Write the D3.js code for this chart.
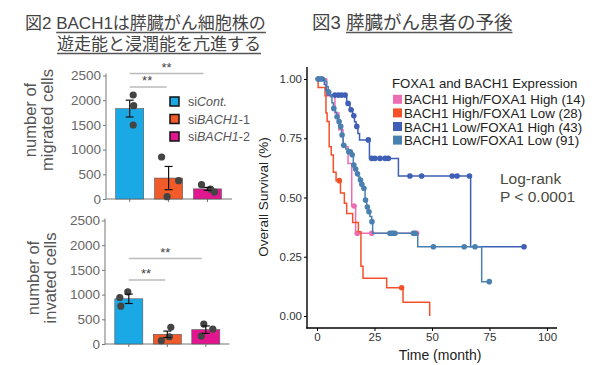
<!DOCTYPE html>
<html>
<head>
<meta charset="utf-8">
<script src="https://cdn.jsdelivr.net/npm/d3@7"></script>
<style>
  body { margin: 0; background: #fff; }
  svg { display: block; }
  text { font-family: "Liberation Sans", Arial, "Noto Sans CJK JP", sans-serif; }
</style>
</head>
<body>
<div class="svg-container"></div>
<script>
// ---- bar chart data (figure 2) ----
const conditions = ["siCont.", "siBACH1-1", "siBACH1-2"];
const barColours = ["#1aa9e4", "#f15a29", "#e2168f"];
const barTicks = [0, 500, 1000, 1500, 2000, 2500];

const migratedMean = [1830, 424, 205];
const migratedSem = [170, 235, 30];
const migratedDots = [[2105, 1889, 1498], [850, 370, 47], [290, 200, 140]];

const invadedMean = [915, 196, 290];
const invadedSem = [95, 65, 75];
const invadedDots = [[941, 1055, 766], [67, 337, 147], [403, 302, 161]];

// ---- survival data (figure 3) ----
const kmGroups = [
  "BACH1 High/FOXA1 High (14)",
  "BACH1 High/FOXA1 Low (28)",
  "BACH1 Low/FOXA1 High (43)",
  "BACH1 Low/FOXA1 Low (91)"
];
const kmColours = ["#ec6db3", "#f2512a", "#3f5fb6", "#4a80b0"];
const timeTicks = [0, 25, 50, 75, 100];
const survTicks = [0, 0.25, 0.5, 0.75, 1];

// [time, survival] after each step
const hhSteps = [[0, 1], [4.2, 0.929], [7.8, 0.857], [9.5, 0.786], [11.3, 0.714], [13.5, 0.643],
  [15.1, 0.464], [16.8, 0.349], [43.3, 0.349]];
const hhCensor = [16.1, 17.5, 23.8, 43.3];

const hlSteps = [[0, 1], [0.5, 0.964], [3.5, 0.929], [3.9, 0.857], [4.4, 0.821], [5.3, 0.714],
  [6.2, 0.679], [7.1, 0.607], [8.3, 0.571], [10.2, 0.519], [11.9, 0.476], [12.9, 0.433],
  [15.5, 0.394], [18, 0.356], [19.1, 0.21], [20, 0.159], [30.3, 0.119], [37.4, 0.058], [49, 0]];
const hlCensor = [9.7, 36.8];

const lhSteps = [[0, 1], [3.2, 0.977], [3.9, 0.953], [4.6, 0.932], [12.9, 0.897], [14.3, 0.87],
  [15.5, 0.845], [16.3, 0.82], [17, 0.8], [17.8, 0.77], [18.5, 0.743], [22.8, 0.665],
  [35.4, 0.591], [66.8, 0.292], [90, 0.292]];
const lhCensor = [0.5, 2.2, 7.8, 9.3, 10.7, 12.2, 13.5, 14.8, 16, 17.3, 22.3, 23.8, 25.2, 27.4,
  29.6, 31, 40.4, 45.5, 58.8, 60.9, 66.3, 90];

const llSteps = [[0, 1], [3.5, 0.989], [4.2, 0.967], [4.9, 0.946], [5.9, 0.925], [6.5, 0.9],
  [7.1, 0.876], [8, 0.86], [8.6, 0.841], [9.3, 0.82], [10, 0.8], [10.7, 0.764], [11.4, 0.72],
  [12.5, 0.705], [13.6, 0.693], [15.1, 0.68], [15.8, 0.637], [16.5, 0.62], [17.3, 0.6],
  [18, 0.587], [18.7, 0.574], [19.4, 0.556], [20.1, 0.539], [20.9, 0.489], [21.6, 0.46],
  [22.3, 0.44], [23, 0.42], [23.8, 0.398], [24.2, 0.349], [43.8, 0.292], [71.6, 0.145], [74.9, 0.145]];
const llCensor = [0.6, 1.5, 5.0, 7.3, 8.7, 9.6, 10.3, 10.9, 11.6, 13.8, 14.5, 15.3, 16, 16.8,
  17.6, 18.9, 19.5, 20.4, 21.1, 21.9, 22.6, 23.9, 31.7, 32.5, 33.2, 33.9, 41.9, 42.6, 50.6, 64, 68.7, 74.9];

const kmSteps = [hhSteps, hlSteps, lhSteps, llSteps];
const kmCensor = [hhCensor, hlCensor, lhCensor, llCensor];

// set up svg
const width = 601;
const height = 365;

const svg = d3.select('.svg-container')
  .append('svg')
  .attr('width', width)
  .attr('height', height);

// titles with underlines
function title(x, y, plain, underlined, size) {
  const t = svg.append('text')
    .attr('x', x).attr('y', y)
    .attr('font-size', size || 17)
    .attr('fill', '#444');
  if (plain) t.append('tspan').text(plain);
  t.append('tspan').text(underlined);
  const start = x + (plain ? t.node().getSubStringLength(0, plain.length) : 0);
  const len = t.node().getComputedTextLength();
  svg.append('line')
    .attr('x1', start).attr('x2', x + len)
    .attr('y1', y + 3.5).attr('y2', y + 3.5)
    .attr('stroke', '#555').attr('stroke-width', 1.6);
}
title(25, 29, "図2 ", "BACH1は膵臓がん細胞株の");
title(57, 50, null, "遊走能と浸潤能を亢進する");
title(312, 29, "図3 ", "膵臓がん患者の予後", 18.5);

// ---- bar charts ----
const dotOffsets = [
  [[3.5, 4, 3.5], [-7, 10, -1.5], [-6, 3, 7]],
  [[-9, -1, -8], [-6, 3.5, 2], [-2, 7, -4.5]]
];

function barChart(opts) {
  const y = d3.scaleLinear().domain([0, 2500]).range([opts.bottom, opts.bottom - 123.5]);
  const x = d3.scalePoint().domain(conditions).range(opts.xRange);
  const bw = 28;
  const g = svg.append('g');

  // axes
  const yAxis = g.append('g')
    .attr('transform', `translate(${opts.axisX},0)`)
    .call(d3.axisLeft(y).tickValues(barTicks).tickFormat(d3.format('d')).tickSize(3).tickPadding(2));
  yAxis.select('.domain').remove();
  yAxis.selectAll('line').attr('stroke', '#777');
  yAxis.selectAll('text').attr('font-size', 13.5).attr('fill', '#666')
    .attr('font-family', '"Liberation Sans", Arial, sans-serif');
  g.append('line')
    .attr('x1', opts.axisX).attr('x2', opts.axisX)
    .attr('y1', y(2500) - 2).attr('y2', opts.bottom)
    .attr('stroke', '#777');
  g.append('line')
    .attr('x1', opts.axisX).attr('x2', opts.axisEnd)
    .attr('y1', opts.bottom).attr('y2', opts.bottom)
    .attr('stroke', '#777');
  g.selectAll('.xtick')
    .data(conditions)
    .enter()
    .append('line')
    .attr('x1', d => x(d)).attr('x2', d => x(d))
    .attr('y1', opts.bottom).attr('y2', opts.bottom + 3)
    .attr('stroke', '#777');

  // bars
  g.selectAll('.bar')
    .data(opts.mean)
    .enter()
    .append('rect')
    .attr('x', (d, i) => x(conditions[i]) - bw / 2)
    .attr('y', d => y(d))
    .attr('width', bw)
    .attr('height', d => opts.bottom - y(d))
    .style('fill', (d, i) => barColours[i])
    .attr('stroke', '#555')
    .attr('stroke-width', 0.6);

  // dots
  opts.dots.forEach((vals, i) => {
    g.selectAll(null)
      .data(vals)
      .enter()
      .append('circle')
      .attr('cx', (d, j) => x(conditions[i]) + opts.offsets[i][j])
      .attr('cy', d => y(d))
      .attr('r', 3.6)
      .attr('fill', '#444');
  });

  // error bars
  opts.mean.forEach((m, i) => {
    const cx = x(conditions[i]);
    const s = opts.sem[i];
    g.append('line').attr('x1', cx).attr('x2', cx)
      .attr('y1', y(m + s)).attr('y2', y(m - s))
      .attr('stroke', '#111').attr('stroke-width', 1.2);
    [m + s, m - s].forEach(v => {
      g.append('line').attr('x1', cx - 4).attr('x2', cx + 4)
        .attr('y1', y(v)).attr('y2', y(v))
        .attr('stroke', '#111').attr('stroke-width', 1.2);
    });
  });

  // significance lines
  const c0 = x(conditions[0]);
  [[2, opts.sig[0]], [1, opts.sig[1]]].forEach(([k, yy]) => {
    g.append('line')
      .attr('x1', c0).attr('x2', x(conditions[k]) - 4 + (k === 2 ? 0 : 2))
      .attr('y1', yy).attr('y2', yy)
      .attr('stroke', '#bbb').attr('stroke-width', 1.6);
    g.append('text')
      .attr('x', (c0 + x(conditions[k])) / 2 - 2)
      .attr('y', yy - 2)
      .attr('text-anchor', 'middle')
      .attr('font-size', 13)
      .attr('fill', '#444')
      .text('**');
  });

  // y label
  const lab = g.append('text')
    .attr('transform', `translate(0,${opts.labelY}) rotate(-90)`)
    .attr('text-anchor', 'middle')
    .attr('font-size', 16.5)
    .attr('fill', '#555');
  lab.append('tspan').attr('x', 0).attr('y', opts.labelX[0]).text('number of');
  lab.append('tspan').attr('x', 0).attr('y', opts.labelX[1]).text(opts.label);
}

barChart({
  bottom: 199, axisX: 106, axisEnd: 232, xRange: [129.7, 207.5],
  mean: migratedMean, sem: migratedSem, dots: migratedDots, offsets: dotOffsets[0],
  sig: [73.5, 87], label: 'migrated cells', labelY: 120, labelX: [36, 53]
});
barChart({
  bottom: 344, axisX: 105, axisEnd: 229.5, xRange: [128.8, 205.8],
  mean: invadedMean, sem: invadedSem, dots: invadedDots, offsets: dotOffsets[1],
  sig: [258.5, 280], label: 'invated cells', labelY: 278, labelX: [39, 56]
});

// bar legend
const legendLabels = [
  [["si", "normal"], ["Cont.", "italic"]],
  [["si", "normal"], ["BACH1", "italic"], ["-1", "normal"]],
  [["si", "normal"], ["BACH1", "italic"], ["-2", "normal"]]
];
const barLegend = svg.append('g');
legendLabels.forEach((parts, i) => {
  const cy = 101.5 + i * 17.5;
  barLegend.append('rect')
    .attr('x', 170).attr('y', cy - 4.5)
    .attr('width', 9).attr('height', 9)
    .attr('fill', barColours[i])
    .attr('stroke', '#111').attr('stroke-width', 1.5);
  const t = barLegend.append('text')
    .attr('x', 188).attr('y', cy + 4.5)
    .attr('font-size', 12.5).attr('fill', '#555');
  parts.forEach(([s, st]) => t.append('tspan').attr('font-style', st).text(s));
});

// ---- Kaplan-Meier plot ----
const kx = d3.scaleLinear().domain([0, 100]).range([317, 547]);
const ky = d3.scaleLinear().domain([0, 1]).range([316, 79]);

const km = svg.append('g');

const xAxis = km.append('g')
  .attr('transform', 'translate(0,328)')
  .call(d3.axisBottom(kx).tickValues(timeTicks).tickSize(3).tickPadding(2));
xAxis.select('.domain').remove();
xAxis.selectAll('text').attr('font-size', 11.5).attr('fill', '#333')
  .attr('font-family', '"Liberation Sans", Arial, sans-serif');

const yAxis = km.append('g')
  .attr('transform', 'translate(307,0)')
  .call(d3.axisLeft(ky).tickValues(survTicks).tickFormat(d3.format('.2f')).tickSize(3).tickPadding(2));
yAxis.select('.domain').remove();
yAxis.selectAll('text').attr('font-size', 11.5).attr('fill', '#333')
  .attr('font-family', '"Liberation Sans", Arial, sans-serif');

km.append('line').attr('x1', 307).attr('x2', 307).attr('y1', 67).attr('y2', 328.5)
  .attr('stroke', '#000').attr('stroke-width', 1.4);
km.append('line').attr('x1', 306.3).attr('x2', 557).attr('y1', 328).attr('y2', 328)
  .attr('stroke', '#000').attr('stroke-width', 1.4);

km.append('text')
  .attr('x', 440).attr('y', 360)
  .attr('text-anchor', 'middle')
  .attr('font-size', 14).attr('fill', '#222')
  .text('Time (month)');
km.append('text')
  .attr('transform', 'translate(268,197) rotate(-90)')
  .attr('text-anchor', 'middle')
  .attr('font-size', 13.5).attr('fill', '#222')
  .text('Overall Survival (%)');

const stepLine = d3.line()
  .x(d => kx(d[0]))
  .y(d => ky(d[1]))
  .curve(d3.curveStepAfter);

function survAt(steps, t) {
  let s = steps[0][1];
  steps.forEach(d => { if (d[0] <= t) s = d[1]; });
  return s;
}

kmSteps.forEach((steps, i) => {
  km.append('path')
    .datum(steps)
    .attr('d', stepLine)
    .attr('fill', 'none')
    .attr('stroke', kmColours[i])
    .attr('stroke-width', 1.5);
  km.selectAll(null)
    .data(kmCensor[i])
    .enter()
    .append('circle')
    .attr('cx', d => kx(d))
    .attr('cy', d => ky(survAt(steps, d)))
    .attr('r', 2.8)
    .attr('fill', kmColours[i]);
});

// km legend
km.append('text')
  .attr('x', 392).attr('y', 88)
  .attr('font-size', 13.2).attr('fill', '#222')
  .text('FOXA1 and BACH1 Expression');
kmGroups.forEach((name, i) => {
  const cy = 99.3 + i * 13.6;
  km.append('rect')
    .attr('x', 393).attr('y', cy - 4.5)
    .attr('width', 9).attr('height', 9)
    .attr('fill', kmColours[i]);
  km.append('text')
    .attr('x', 404).attr('y', cy + 5)
    .attr('font-size', 13.3).attr('fill', '#222')
    .text(name);
});

km.append('text')
  .attr('x', 500).attr('y', 183.5)
  .attr('font-size', 15.5).attr('fill', '#4a4a40')
  .text('Log-rank');
km.append('text')
  .attr('x', 500).attr('y', 202)
  .attr('font-size', 15.5).attr('fill', '#4a4a40')
  .text('P < 0.0001');
</script>
</body>
</html>
